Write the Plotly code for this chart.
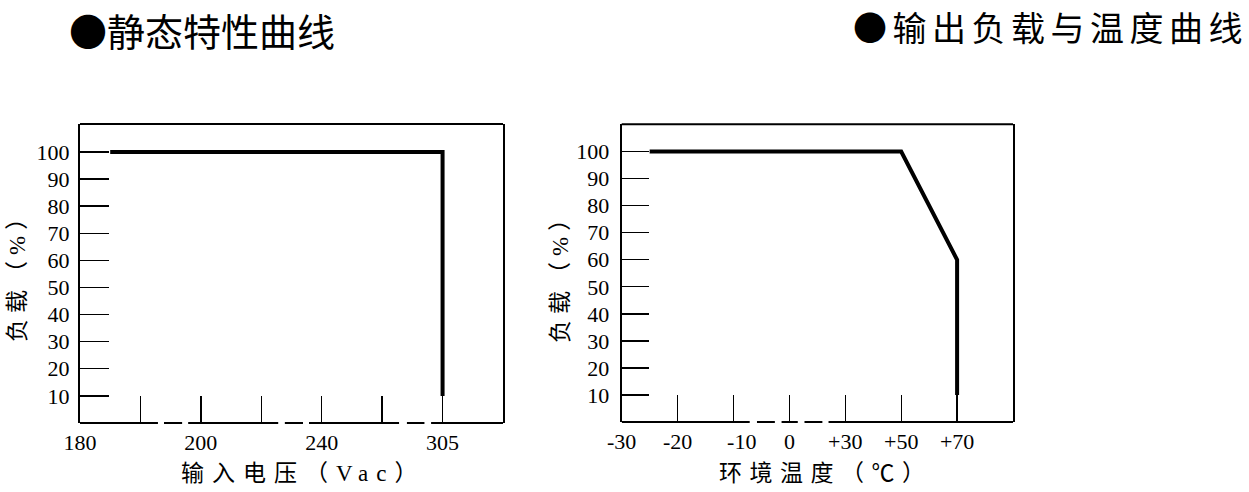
import plotly.graph_objects as go

# ---------------- data ----------------
# Left chart: static characteristic (input voltage vs load)
left_tick_labels = ["180", "200", "240", "305"]
left_tick_index = [0, 2, 4, 6]          # positions on the broken (index) axis
left_curve_x = [0.5, 6, 6]              # index positions (axis is broken / non-linear)
left_curve_y = [100, 100, 10]

# Right chart: output load vs ambient temperature
right_tick_labels = ["-30", "-20", "\u00a0\u00a0\u00a0-10", "0", "+30", "+50", "+70"]
right_tick_index = [0, 1, 2, 3, 4, 5, 6]
right_curve_x = [0.5, 5, 6, 6]
right_curve_y = [100, 100, 60, 10]

y_ticks = [10, 20, 30, 40, 50, 60, 70, 80, 90, 100]
x_minor_ticks = [1, 2, 3, 4, 5, 6]

# axis-break drawing of the bottom frame (index units)
left_base_segments = [(0, 1.29), (1.39, 1.69), (1.79, 3.28), (3.39, 3.69),
                      (3.79, 5.28), (5.41, 5.70), (5.81, 7)]
right_base_segments = [(0, 2.29), (2.42, 2.74), (2.86, 3.15), (3.27, 3.59), (3.70, 7)]

W, H = 1249, 492
SERIF = "Liberation Serif, Times New Roman, Noto Sans CJK SC, serif"
CJK = "Noto Sans CJK SC, sans-serif"

def px_x(p):
    return p / W

def px_y(p):
    return (H - p) / H

fig = go.Figure()

fig.add_trace(go.Scatter(x=left_curve_x, y=left_curve_y, mode="lines",
                         line=dict(color="black", width=4), xaxis="x", yaxis="y",
                         showlegend=False, hoverinfo="skip"))
fig.add_trace(go.Scatter(x=right_curve_x, y=right_curve_y, mode="lines",
                         line=dict(color="black", width=4), xaxis="x2", yaxis="y2",
                         showlegend=False, hoverinfo="skip"))

tick_font = dict(family=SERIF, size=22, color="black")

def xaxis_cfg(domain, tickvals, ticktext):
    return dict(domain=domain, range=[0, 7], showline=False, showgrid=False, zeroline=False,
                ticks="inside", ticklen=27, tickwidth=1.4, tickcolor="black",
                tickvals=tickvals, ticktext=ticktext, tickfont=tick_font, fixedrange=True,
                automargin=False, ticklabelstandoff=4)

def yaxis_cfg(domain, anchor, rng, ticklen, standoff):
    return dict(domain=domain, anchor=anchor, range=rng, showline=True, linewidth=2,
                linecolor="black", mirror=True, showgrid=False, zeroline=False,
                ticks="inside", ticklen=ticklen, tickwidth=1.4, tickcolor="black",
                tickvals=y_ticks, tickfont=tick_font, fixedrange=True,
                automargin=False, ticklabelstandoff=standoff)

# left x: ticks at every index, labels only at 0,2,4,6
left_all_vals = [0] + x_minor_ticks
left_all_text = []
for v in left_all_vals:
    left_all_text.append(left_tick_labels[left_tick_index.index(v)] if v in left_tick_index else "")

fig.update_layout(
    width=W, height=H, margin=dict(l=0, r=0, t=0, b=0, autoexpand=False),
    paper_bgcolor="white", plot_bgcolor="white",
    xaxis=xaxis_cfg([px_x(80), px_x(503)], left_all_vals, left_all_text) | dict(anchor="y"),
    yaxis=yaxis_cfg([px_y(423), px_y(124)], "x", [0, 110.3], 29, 4),
    xaxis2=xaxis_cfg([px_x(621.7), px_x(1013)], right_tick_index, right_tick_labels) | dict(anchor="y2"),
    yaxis2=yaxis_cfg([px_y(422), px_y(124.3)], "x2", [0, 110.1], 27, 6),
)

shapes = []
for xr, yr in (("x", "y"), ("x2", "y2")):
    shapes.append(dict(type="line", xref=f"{xr} domain", yref=f"{yr} domain",
                       x0=0, x1=1, y0=1, y1=1, line=dict(color="black", width=2)))
for segs, xr, yr in ((left_base_segments, "x", "y"), (right_base_segments, "x2", "y2")):
    for a, b in segs:
        shapes.append(dict(type="line", xref=xr, yref=f"{yr} domain",
                           x0=a, x1=b, y0=0, y1=0, line=dict(color="black", width=2)))
fig.update_layout(shapes=shapes)

def ls(text, sp):
    # letter-spaced text; the last glyph gets no trailing spacing
    return f'<span style="letter-spacing:{sp}px">{text[:-1]}</span>{text[-1]}'

annotations = [
    dict(text="●静态特性曲线", x=px_x(67), y=1, xref="paper", yref="paper",
         xanchor="left", yanchor="top", showarrow=False,
         font=dict(family=CJK, size=38, color="black")),
    dict(text=ls("●输出负载与温度曲线", 5.5), x=px_x(851), y=1,
         xref="paper", yref="paper",
         xanchor="left", yanchor="top", showarrow=False,
         font=dict(family=CJK, size=34, color="black")),
    dict(text=ls("输入电压（Vac）", 8), x=px_x(299), y=px_y(473),
         xref="paper", yref="paper",
         xanchor="center", yanchor="middle", showarrow=False,
         font=dict(family=SERIF, size=23, color="black")),
    dict(text=ls("环境温度（℃）", 7.5), x=px_x(822), y=px_y(473), xref="paper", yref="paper",
         xanchor="center", yanchor="middle", showarrow=False,
         font=dict(family=SERIF, size=23, color="black")),
    dict(text=ls("负载（%）", 6), x=px_x(17), y=px_y(275), xref="paper", yref="paper",
         xanchor="center", yanchor="middle", showarrow=False, textangle=-90,
         font=dict(family=SERIF, size=23, color="black")),
    dict(text=ls("负载（%）", 6), x=px_x(560), y=px_y(276), xref="paper", yref="paper",
         xanchor="center", yanchor="middle", showarrow=False, textangle=-90,
         font=dict(family=SERIF, size=23, color="black")),
]
fig.update_layout(annotations=annotations)

fig.write_html("out.html", config={"displayModeBar": False, "staticPlot": True},
               post_script="document.body.style.margin='0';document.body.style.overflow='hidden';")
